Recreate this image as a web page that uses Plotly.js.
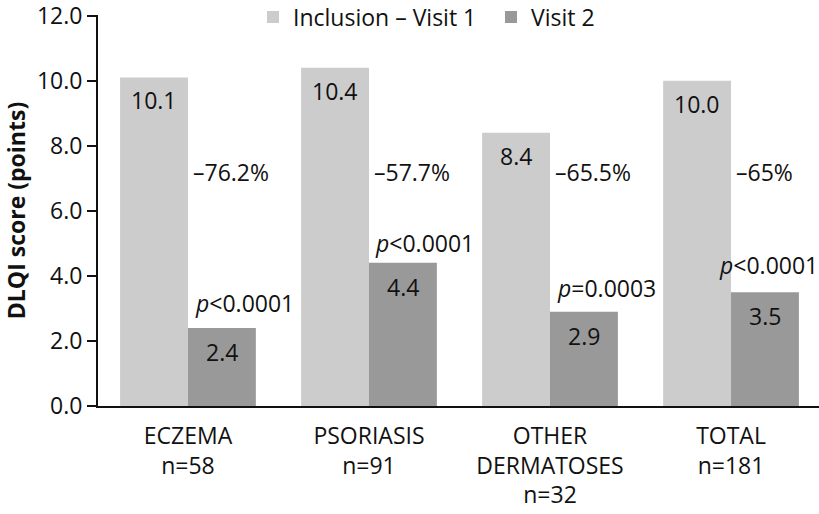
<!DOCTYPE html>
<html>
<head>
<meta charset="utf-8">
<script src="https://cdn.plot.ly/plotly-3.0.1.min.js"></script>
<style>html,body{margin:0;padding:0;background:#fff;}#chart{width:819px;height:514px;}</style>
</head>
<body>
<div id="chart"></div>
<script>
const categories = ["ECZEMA<br>n=58", "PSORIASIS<br>n=91", "OTHER<br>DERMATOSES<br>n=32", "TOTAL<br>n=181"];
const visit1 = [10.1, 10.4, 8.4, 10.0];
const visit2 = [2.4, 4.4, 2.9, 3.5];
const changeLabels = ["\u201376.2%", "\u201357.7%", "\u201365.5%", "\u201365%"];
const pLabels = ["<i>p</i><0.0001", "<i>p</i><0.0001", "<i>p</i>=0.0003", "<i>p</i><0.0001"];
const yTicks = [0, 2, 4, 6, 8, 10, 12];
const yTickText = ["0.0", "2.0", "4.0", "6.0", "8.0", "10.0", "12.0"];

const FONT = "Open Sans, sans-serif";
const FS = 23;
const idx = categories.map((_, i) => i);
const half = 0.1875;

// layout-only positioning helpers (not data)
const pOffsetX = [0.03, 0.02, 0.025, -0.075];
const pOffsetY = [0.78, 0.62, 0.74, 0.82];

const annotations = [];
idx.forEach(i => {
  annotations.push({x: i - half, y: visit1[i], xref: 'x', yref: 'y', text: visit1[i].toFixed(1),
    showarrow: false, yanchor: 'middle', yshift: -23, font: {family: FONT, size: FS, color: '#111'}});
  annotations.push({x: i + half, y: visit2[i], xref: 'x', yref: 'y', text: visit2[i].toFixed(1),
    showarrow: false, yanchor: 'middle', yshift: -24, font: {family: FONT, size: FS, color: '#111'}});
  annotations.push({x: i + 0.018, y: 7.18, xref: 'x', yref: 'y', text: changeLabels[i],
    showarrow: false, xanchor: 'left', yanchor: 'middle', font: {family: FONT, size: FS, color: '#111'}});
  annotations.push({x: i + pOffsetX[i], y: visit2[i] + pOffsetY[i], xref: 'x', yref: 'y', text: pLabels[i],
    showarrow: false, xanchor: 'left', yanchor: 'middle', font: {family: FONT, size: FS, color: '#111'}});
});

const data = [
  {type: 'bar', name: 'Inclusion \u2013 Visit 1', x: idx, y: visit1, marker: {color: '#cccccc'}, hoverinfo: 'skip'},
  {type: 'bar', name: 'Visit 2', x: idx, y: visit2, marker: {color: '#999999'}, hoverinfo: 'skip'}
];

const layout = {
  width: 819, height: 514,
  margin: {l: 98, r: 0, t: 15, b: 108, autoexpand: false},
  paper_bgcolor: '#fff', plot_bgcolor: '#fff',
  font: {family: FONT, size: FS, color: '#111'},
  barmode: 'group', bargap: 0.25, bargroupgap: 0,
  showlegend: true,
  legend: {orientation: 'h', x: 0.215, xanchor: 'left', y: 0.995, yanchor: 'middle',
    entrywidth: 193, entrywidthmode: 'pixels',
    font: {family: FONT, size: FS, color: '#111'}, itemwidth: 30, traceorder: 'normal', bgcolor: 'rgba(0,0,0,0)'},
  xaxis: {range: [-0.497, 3.486], tickmode: 'array', tickvals: idx, ticktext: categories,
    showline: true, linecolor: '#111', linewidth: 2, ticks: '', showgrid: false, zeroline: false,
    ticklabelstandoff: 8,
    tickfont: {family: FONT, size: FS, color: '#111'}, fixedrange: true},
  yaxis: {range: [0, 12.02], tickmode: 'array', tickvals: yTicks, ticktext: yTickText,
    showline: true, linecolor: '#111', linewidth: 2, ticks: 'outside', ticklen: 9, tickwidth: 2, tickcolor: '#111',
    showgrid: false, zeroline: false, tickfont: {family: FONT, size: FS, color: '#111'},
    ticklabeloverflow: 'allow',
    title: {text: '<b>DLQI score (points)</b>', font: {family: FONT, size: FS, color: '#111'}, standoff: 9}},
  annotations: annotations
};

Plotly.newPlot('chart', data, layout, {displayModeBar: false, staticPlot: true});
</script>
</body>
</html>
